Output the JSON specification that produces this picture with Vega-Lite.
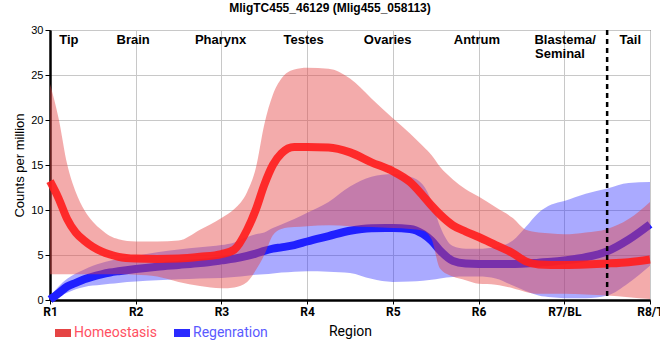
{
  "$schema": "https://vega.github.io/schema/vega-lite/v6.json",
  "width": 600,
  "height": 270,
  "autosize": {"type": "none"},
  "padding": {"left": 50, "top": 30, "right": 10, "bottom": 60},
  "title": {"text": "MligTC455_46129 (Mlig455_058113)", "font": "Liberation Sans", "fontSize": 12, "fontWeight": "bold", "color": "black", "anchor": "middle", "dx": -20, "offset": 9},
  "config": {
    "view": {"stroke": "black", "strokeWidth": 1},
    "axis": {"gridColor": "#c8c8c8", "gridWidth": 1, "gridOpacity": 1}
  },
  "datasets": {
    "curves": [
      {"s":"Homeostasis","x":1.0,"m":13.2,"lo":2.85,"hi":24.0},
      {"s":"Homeostasis","x":1.1,"m":11.3,"lo":2.85,"hi":20.2},
      {"s":"Homeostasis","x":1.2,"m":9.0,"lo":2.85,"hi":15.1},
      {"s":"Homeostasis","x":1.3,"m":7.5,"lo":2.85,"hi":12.0},
      {"s":"Homeostasis","x":1.4,"m":6.6,"lo":2.85,"hi":10.0},
      {"s":"Homeostasis","x":1.5,"m":5.9,"lo":2.85,"hi":8.7},
      {"s":"Homeostasis","x":1.6,"m":5.4,"lo":2.85,"hi":7.8},
      {"s":"Homeostasis","x":1.7,"m":5.05,"lo":2.85,"hi":7.1},
      {"s":"Homeostasis","x":1.8,"m":4.8,"lo":2.85,"hi":6.75},
      {"s":"Homeostasis","x":2.0,"m":4.6,"lo":2.8,"hi":6.5},
      {"s":"Homeostasis","x":2.25,"m":4.55,"lo":2.6,"hi":6.5},
      {"s":"Homeostasis","x":2.5,"m":4.6,"lo":2.0,"hi":6.6},
      {"s":"Homeostasis","x":2.75,"m":4.8,"lo":1.55,"hi":7.8},
      {"s":"Homeostasis","x":3.0,"m":5.1,"lo":1.3,"hi":9.1},
      {"s":"Homeostasis","x":3.15,"m":5.6,"lo":1.4,"hi":10.1},
      {"s":"Homeostasis","x":3.3,"m":7.8,"lo":2.0,"hi":12.0},
      {"s":"Homeostasis","x":3.4,"m":10.0,"lo":3.3,"hi":14.6},
      {"s":"Homeostasis","x":3.5,"m":12.8,"lo":5.0,"hi":19.5},
      {"s":"Homeostasis","x":3.6,"m":15.0,"lo":7.2,"hi":22.8},
      {"s":"Homeostasis","x":3.7,"m":16.3,"lo":7.9,"hi":24.6},
      {"s":"Homeostasis","x":3.85,"m":17.0,"lo":8.1,"hi":25.6},
      {"s":"Homeostasis","x":4.0,"m":17.0,"lo":8.2,"hi":25.8},
      {"s":"Homeostasis","x":4.25,"m":16.95,"lo":8.3,"hi":25.7},
      {"s":"Homeostasis","x":4.5,"m":16.4,"lo":8.2,"hi":24.6},
      {"s":"Homeostasis","x":4.75,"m":15.3,"lo":8.1,"hi":22.4},
      {"s":"Homeostasis","x":5.0,"m":14.3,"lo":8.0,"hi":20.2},
      {"s":"Homeostasis","x":5.2,"m":13.1,"lo":7.9,"hi":18.5},
      {"s":"Homeostasis","x":5.35,"m":11.6,"lo":7.7,"hi":17.1},
      {"s":"Homeostasis","x":5.45,"m":10.5,"lo":6.8,"hi":16.1},
      {"s":"Homeostasis","x":5.55,"m":9.5,"lo":3.5,"hi":14.8},
      {"s":"Homeostasis","x":5.7,"m":8.3,"lo":2.6,"hi":13.4},
      {"s":"Homeostasis","x":5.85,"m":7.6,"lo":2.2,"hi":12.3},
      {"s":"Homeostasis","x":6.0,"m":7.0,"lo":1.8,"hi":11.5},
      {"s":"Homeostasis","x":6.2,"m":6.1,"lo":1.7,"hi":10.3},
      {"s":"Homeostasis","x":6.4,"m":5.2,"lo":1.3,"hi":9.1},
      {"s":"Homeostasis","x":6.55,"m":4.3,"lo":0.9,"hi":7.8},
      {"s":"Homeostasis","x":6.7,"m":3.95,"lo":0.7,"hi":7.5},
      {"s":"Homeostasis","x":6.85,"m":3.9,"lo":0.7,"hi":7.4},
      {"s":"Homeostasis","x":7.0,"m":3.9,"lo":0.7,"hi":7.3},
      {"s":"Homeostasis","x":7.25,"m":3.95,"lo":0.6,"hi":7.5},
      {"s":"Homeostasis","x":7.5,"m":4.05,"lo":0.5,"hi":7.9},
      {"s":"Homeostasis","x":7.75,"m":4.2,"lo":0.3,"hi":9.0},
      {"s":"Homeostasis","x":8.0,"m":4.5,"lo":0.1,"hi":10.9},
      {"s":"Regenration","x":1.0,"m":0.05,"lo":0.0,"hi":0.4},
      {"s":"Regenration","x":1.1,"m":0.75,"lo":0.35,"hi":1.5},
      {"s":"Regenration","x":1.2,"m":1.5,"lo":0.8,"hi":2.35},
      {"s":"Regenration","x":1.3,"m":1.9,"lo":1.2,"hi":2.95},
      {"s":"Regenration","x":1.4,"m":2.3,"lo":1.45,"hi":3.4},
      {"s":"Regenration","x":1.5,"m":2.6,"lo":1.6,"hi":3.8},
      {"s":"Regenration","x":1.6,"m":2.85,"lo":1.7,"hi":4.1},
      {"s":"Regenration","x":1.7,"m":3.05,"lo":1.8,"hi":4.35},
      {"s":"Regenration","x":1.8,"m":3.2,"lo":1.9,"hi":4.55},
      {"s":"Regenration","x":2.0,"m":3.45,"lo":2.05,"hi":4.9},
      {"s":"Regenration","x":2.25,"m":3.7,"lo":2.2,"hi":5.3},
      {"s":"Regenration","x":2.5,"m":3.9,"lo":2.3,"hi":5.6},
      {"s":"Regenration","x":2.75,"m":4.1,"lo":2.4,"hi":5.85},
      {"s":"Regenration","x":3.0,"m":4.4,"lo":2.45,"hi":6.1},
      {"s":"Regenration","x":3.15,"m":4.6,"lo":2.55,"hi":6.4},
      {"s":"Regenration","x":3.3,"m":4.9,"lo":2.7,"hi":7.0},
      {"s":"Regenration","x":3.4,"m":5.15,"lo":2.8,"hi":7.3},
      {"s":"Regenration","x":3.5,"m":5.45,"lo":2.85,"hi":7.5},
      {"s":"Regenration","x":3.6,"m":5.7,"lo":2.95,"hi":8.0},
      {"s":"Regenration","x":3.7,"m":5.85,"lo":3.05,"hi":8.4},
      {"s":"Regenration","x":3.85,"m":6.1,"lo":3.15,"hi":9.0},
      {"s":"Regenration","x":4.0,"m":6.5,"lo":3.2,"hi":9.7},
      {"s":"Regenration","x":4.25,"m":7.1,"lo":3.15,"hi":10.9},
      {"s":"Regenration","x":4.5,"m":7.7,"lo":3.0,"hi":12.6},
      {"s":"Regenration","x":4.75,"m":7.98,"lo":2.35,"hi":13.7},
      {"s":"Regenration","x":5.0,"m":8.0,"lo":2.0,"hi":14.0},
      {"s":"Regenration","x":5.2,"m":7.9,"lo":2.05,"hi":13.7},
      {"s":"Regenration","x":5.35,"m":7.35,"lo":2.15,"hi":12.8},
      {"s":"Regenration","x":5.45,"m":6.6,"lo":2.25,"hi":11.0},
      {"s":"Regenration","x":5.55,"m":5.5,"lo":2.4,"hi":8.2},
      {"s":"Regenration","x":5.7,"m":4.35,"lo":2.55,"hi":6.0},
      {"s":"Regenration","x":5.85,"m":4.05,"lo":2.6,"hi":5.7},
      {"s":"Regenration","x":6.0,"m":4.0,"lo":2.6,"hi":5.7},
      {"s":"Regenration","x":6.2,"m":4.0,"lo":2.4,"hi":5.9},
      {"s":"Regenration","x":6.4,"m":4.0,"lo":1.6,"hi":6.6},
      {"s":"Regenration","x":6.55,"m":4.05,"lo":1.0,"hi":8.1},
      {"s":"Regenration","x":6.7,"m":4.15,"lo":0.5,"hi":9.7},
      {"s":"Regenration","x":6.85,"m":4.25,"lo":0.3,"hi":10.6},
      {"s":"Regenration","x":7.0,"m":4.4,"lo":0.2,"hi":11.0},
      {"s":"Regenration","x":7.25,"m":4.75,"lo":0.2,"hi":11.8},
      {"s":"Regenration","x":7.5,"m":5.4,"lo":0.5,"hi":12.4},
      {"s":"Regenration","x":7.75,"m":6.7,"lo":1.9,"hi":13.0},
      {"s":"Regenration","x":8.0,"m":8.4,"lo":3.8,"hi":13.1}
    ],
    "labels": [
      {"label":"Tip","x":1.22,"y":28.44},
      {"label":"Brain","x":1.97,"y":28.44},
      {"label":"Pharynx","x":2.99,"y":28.44},
      {"label":"Testes","x":3.96,"y":28.44},
      {"label":"Ovaries","x":4.94,"y":28.44},
      {"label":"Antrum","x":5.98,"y":28.44},
      {"label":"Blastema/","x":7.01,"y":28.44},
      {"label":"Seminal","x":6.95,"y":26.85},
      {"label":"Tail","x":7.77,"y":28.44}
    ],
    "divider": [{"x":7.5}]
  },
  "layer": [
    {
      "data": {"name": "curves"},
      "transform": [{"filter": "datum.s === 'Regenration'"}],
      "mark": {"type": "area", "interpolate": "monotone", "opacity": 0.4},
      "encoding": {
        "x": {"field": "x", "type": "quantitative", "scale": {"domain": [1, 8], "nice": false, "zero": false},
          "axis": {"title": "Region", "values": [1,2,3,4,5,6,7,8], "labelExpr": "datum.value == 7 ? 'R7/BL' : datum.value == 8 ? 'R8/T' : 'R' + datum.value",
            "labelFont": "Roboto", "labelFontWeight": "bold", "labelFontSize": 12, "labelColor": "black", "labelFlush": false, "labelOverlap": false, "labelPadding": 2,
            "titleFont": "Roboto", "titleFontSize": 14, "titleFontWeight": "normal", "titleColor": "black", "titlePadding": 7,
            "domainColor": "black", "domainWidth": 2.5, "tickColor": "black", "tickSize": 4, "grid": true}},
        "y": {"field": "lo", "type": "quantitative", "scale": {"domain": [0, 30], "nice": false},
          "axis": {"title": "Counts per million", "values": [0,5,10,15,20,25,30], "labelFont": "Liberation Sans", "labelFontSize": 11, "labelColor": "black",
            "titleFont": "Liberation Sans", "titleFontSize": 13, "titleFontWeight": "normal", "titleColor": "black", "titlePadding": 4,
            "domainColor": "black", "domainWidth": 2.5, "tickColor": "black", "tickSize": 5, "grid": true}},
        "y2": {"field": "hi"},
        "color": {"field": "s", "type": "nominal", "scale": {"domain": ["Homeostasis", "Regenration"], "range": ["#e54444", "#2a2aff"]},
          "legend": {"orient": "none", "legendX": 5, "legendY": 295, "direction": "horizontal", "title": null,
            "symbolType": "M-1,-0.5H1V0.5H-1Z", "symbolSize": 256, "symbolOpacity": 1, "symbolStrokeWidth": 0,
            "labelFont": "Roboto", "labelFontSize": 14, "labelOffset": 3, "columnPadding": 17,
            "encode": {"labels": {"update": {"fill": {"signal": "datum.value === 'Homeostasis' ? '#ff5062' : '#5a5aff'"}}},
                       "symbols": {"enter": {"fill": {"signal": "datum.value === 'Homeostasis' ? '#ff3333' : '#3333ff'"}}, "update": {"opacity": {"value": 1}, "fill": {"signal": "datum.value === 'Homeostasis' ? '#ff3333' : '#3333ff'"}}}}}}
      }
    },
    {
      "data": {"name": "curves"},
      "transform": [{"filter": "datum.s === 'Regenration'"}],
      "mark": {"type": "line", "interpolate": "monotone", "strokeWidth": 8, "strokeCap": "butt", "color": "#2020ff"},
      "encoding": {
        "x": {"field": "x", "type": "quantitative", "title": "Region"},
        "y": {"field": "m", "type": "quantitative", "title": "Counts per million"}
      }
    },
    {
      "data": {"name": "curves"},
      "transform": [{"filter": "datum.s === 'Homeostasis'"}],
      "mark": {"type": "area", "interpolate": "monotone", "opacity": 0.45},
      "encoding": {
        "x": {"field": "x", "type": "quantitative", "title": "Region"},
        "y": {"field": "lo", "type": "quantitative", "title": "Counts per million"},
        "y2": {"field": "hi"},
        "color": {"field": "s", "type": "nominal"}
      }
    },
    {
      "data": {"name": "curves"},
      "transform": [{"filter": "datum.s === 'Homeostasis'"}],
      "mark": {"type": "line", "interpolate": "monotone", "strokeWidth": 8, "strokeCap": "butt", "color": "#ff1e1e", "opacity": 0.92},
      "encoding": {
        "x": {"field": "x", "type": "quantitative", "title": "Region"},
        "y": {"field": "m", "type": "quantitative", "title": "Counts per million"}
      }
    },
    {
      "data": {"name": "divider"},
      "mark": {"type": "rule", "color": "black", "strokeWidth": 2.5, "strokeDash": [5, 4]},
      "encoding": {"x": {"field": "x", "type": "quantitative", "title": "Region"}}
    },
    {
      "data": {"name": "labels"},
      "mark": {"type": "text", "font": "Liberation Sans", "fontSize": 13, "fontWeight": "bold", "color": "black", "align": "center", "baseline": "alphabetic"},
      "encoding": {
        "x": {"field": "x", "type": "quantitative", "title": "Region"},
        "y": {"field": "y", "type": "quantitative", "title": "Counts per million"},
        "text": {"field": "label"}
      }
    }
  ]
}
